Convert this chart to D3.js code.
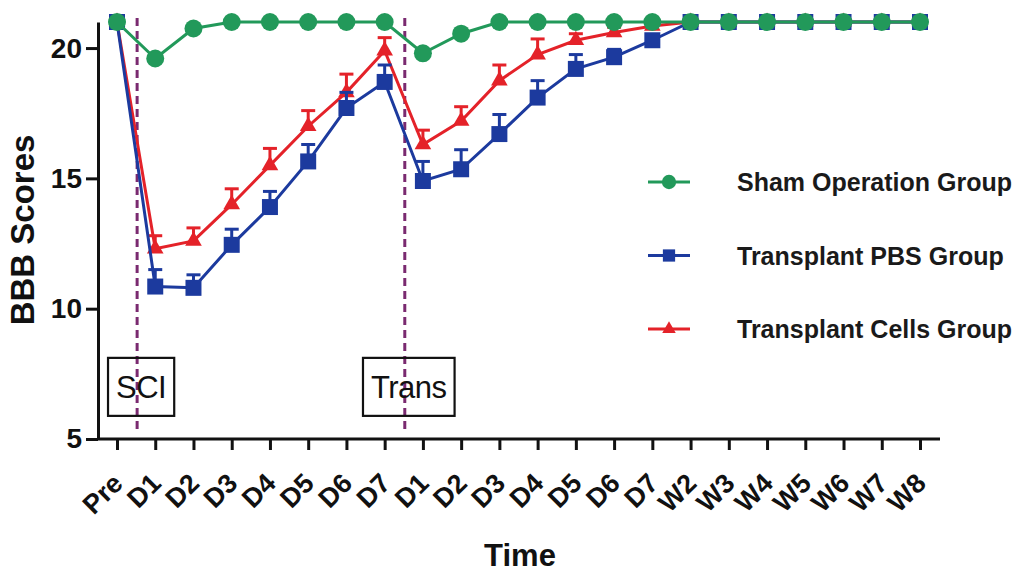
<!DOCTYPE html>
<html>
<head>
<meta charset="utf-8">
<script src="https://cdn.jsdelivr.net/npm/d3@7/dist/d3.min.js"></script>
<style>
  html, body { margin: 0; padding: 0; background: #ffffff; }
  svg { display: block; font-family: "Liberation Sans", Arial, sans-serif; }
</style>
</head>
<body>
<svg id="chart" width="1025" height="574"></svg>
<script>
// Time points: pre-injury, days after SCI, days after transplant, weeks
const timeLabels = ["Pre", "D1", "D2", "D3", "D4", "D5", "D6", "D7",
                    "D1", "D2", "D3", "D4", "D5", "D6", "D7",
                    "W2", "W3", "W4", "W5", "W6", "W7", "W8"];

// Mean BBB scores per group
const shamScores  = [21, 19.6, 20.75, 21, 21, 21, 21, 21, 19.8, 20.55, 21, 21, 21, 21, 21, 21, 21, 21, 21, 21, 21, 21];
const pbsScores   = [21, 10.85, 10.8, 12.45, 13.9, 15.65, 17.7, 18.7, 14.9, 15.35, 16.7, 18.1, 19.2, 19.65, 20.3, 21, 21, 21, 21, 21, 21, 21];
const cellsScores = [21, 12.3, 12.6, 14.0, 15.5, 17.0, 18.3, 19.9, 16.3, 17.2, 18.75, 19.75, 20.3, 20.6, 20.85, 21, 21, 21, 21, 21, 21, 21];

// Standard errors (upper bars only)
const shamErr  = [0, 0, 0, 0, 0, 0, 0, 0, 0, 0, 0, 0, 0, 0, 0, 0, 0, 0, 0, 0, 0, 0];
const pbsErr   = [0, 0.65, 0.5, 0.6, 0.6, 0.65, 0.6, 0.65, 0.75, 0.75, 0.75, 0.65, 0.55, 0.3, 0.2, 0, 0, 0, 0, 0, 0, 0];
const cellsErr = [0, 0.5, 0.5, 0.6, 0.65, 0.6, 0.7, 0.5, 0.55, 0.55, 0.6, 0.6, 0.25, 0.2, 0.1, 0, 0, 0, 0, 0, 0, 0];

const yTicks = [5, 10, 15, 20];

// Event markers placed between time points
const events = [
  { at: 0.5, label: "SCI" },
  { at: 7.5, label: "Trans" }
];

const groups = [
  { name: "Transplant Cells Group", values: cellsScores, err: cellsErr, color: "#e42229", symbol: d3.symbolTriangle, size: 120, legendSize: 80 },
  { name: "Transplant PBS Group",   values: pbsScores,   err: pbsErr,   color: "#1c3a9e", symbol: d3.symbolSquare,   size: 256, legendSize: 150 },
  { name: "Sham Operation Group",   values: shamScores,  err: shamErr,  color: "#22995a", symbol: d3.symbolCircle,   size: 254, legendSize: 160 }
];
// legend order (top to bottom)
const legendOrder = ["Sham Operation Group", "Transplant PBS Group", "Transplant Cells Group"];

const svg = d3.select("#chart");

const x = d3.scaleLinear().domain([0, timeLabels.length - 1]).range([117, 920]);
const y = d3.scaleLinear().domain([5, 21]).range([439, 22]);

// Event dashed lines
svg.append("g").selectAll("line").data(events).join("line")
  .attr("x1", d => x(d.at) + 1).attr("x2", d => x(d.at) + 1)
  .attr("y1", y(21.15)).attr("y2", y(5.35))
  .attr("stroke", "#7a2a70").attr("stroke-width", 3)
  .attr("stroke-dasharray", "8,5");

// Event boxes with labels
const evG = svg.append("g").selectAll("g").data(events).join("g")
  .attr("transform", d => `translate(${x(d.at) + 5},${y(7)})`);
evG.append("text")
  .attr("text-anchor", "middle")
  .attr("y", 11)
  .attr("font-size", 31)
  .attr("letter-spacing", -0.5)
  .attr("fill", "#111")
  .text(d => d.label);
evG.each(function() {
  const g = d3.select(this);
  const bb = g.select("text").node().getBBox();
  g.insert("rect", "text")
    .attr("x", bb.x - 8).attr("width", bb.width + 16)
    .attr("y", -29).attr("height", 58)
    .attr("fill", "none").attr("stroke", "#111").attr("stroke-width", 2.2);
});

// Y axis
const yAxis = svg.append("g")
  .attr("transform", "translate(98,0)")
  .call(d3.axisLeft(y).tickValues(yTicks).tickSize(12).tickSizeOuter(0).tickPadding(4));
yAxis.select(".domain").attr("stroke", "#111").attr("stroke-width", 3);
yAxis.selectAll(".tick line").attr("stroke", "#111").attr("stroke-width", 3);
yAxis.selectAll(".tick text")
  .attr("font-size", 28).attr("font-weight", "bold").attr("fill", "#111")
  .attr("font-family", "Liberation Sans, Arial, sans-serif");

// X axis
const xAxis = svg.append("g")
  .attr("transform", "translate(0,439)")
  .call(d3.axisBottom(x).tickValues(d3.range(timeLabels.length))
    .tickFormat(i => timeLabels[i]).tickSize(11).tickSizeOuter(0));
xAxis.select(".domain").remove();
xAxis.append("line")
  .attr("x1", 98).attr("x2", 940).attr("y1", 0).attr("y2", 0)
  .attr("stroke", "#111").attr("stroke-width", 3);
xAxis.selectAll(".tick line").attr("stroke", "#111").attr("stroke-width", 3);
xAxis.selectAll(".tick text")
  .attr("font-size", 27).attr("font-weight", "bold").attr("fill", "#111")
  .attr("font-family", "Liberation Sans, Arial, sans-serif")
  .attr("text-anchor", "end")
  .attr("dy", null)
  .attr("y", null)
  .attr("transform", "translate(7,46) rotate(-45)");

// Axis titles
svg.append("text")
  .attr("transform", "translate(34,230) rotate(-90)")
  .attr("text-anchor", "middle")
  .attr("font-size", 33).attr("font-weight", "bold").attr("fill", "#111")
  .text("BBB Scores");
svg.append("text")
  .attr("x", 520).attr("y", 566)
  .attr("text-anchor", "middle")
  .attr("font-size", 31).attr("font-weight", "bold").attr("fill", "#111")
  .text("Time");

// Series
const line = d3.line().x((d, i) => x(i)).y(d => y(d));
groups.forEach(g => {
  const sg = svg.append("g");
  sg.append("path")
    .datum(g.values)
    .attr("d", line)
    .attr("fill", "none").attr("stroke", g.color).attr("stroke-width", 3);
  const withErr = g.values.map((v, i) => ({ i, v, e: g.err[i] })).filter(d => d.e > 0);
  sg.selectAll(".eb").data(withErr).join("line")
    .attr("x1", d => x(d.i)).attr("x2", d => x(d.i))
    .attr("y1", d => y(d.v)).attr("y2", d => y(d.v + d.e))
    .attr("stroke", g.color).attr("stroke-width", 3);
  sg.selectAll(".cap").data(withErr).join("line")
    .attr("x1", d => x(d.i) - 7).attr("x2", d => x(d.i) + 7)
    .attr("y1", d => y(d.v + d.e)).attr("y2", d => y(d.v + d.e))
    .attr("stroke", g.color).attr("stroke-width", 3);
  sg.selectAll(".pt").data(g.values).join("path")
    .attr("transform", (d, i) => `translate(${x(i)},${y(d)})`)
    .attr("d", d3.symbol().type(g.symbol).size(g.size))
    .attr("fill", g.color);
});

// Legend
const legend = svg.append("g");
const legendRows = legendOrder.map(n => groups.find(g => g.name === n));
const rowY = d3.scalePoint().domain(legendOrder).range([182, 329]);
const lg = legend.selectAll("g").data(legendRows).join("g")
  .attr("transform", d => `translate(0,${rowY(d.name)})`);
lg.append("line")
  .attr("x1", 648).attr("x2", 690)
  .attr("stroke", d => d.color).attr("stroke-width", 3);
lg.append("path")
  .attr("transform", "translate(669,0)")
  .attr("d", d => d3.symbol().type(d.symbol).size(d.legendSize)())
  .attr("fill", d => d.color);
lg.append("text")
  .attr("x", 737).attr("y", 9)
  .attr("font-size", 25).attr("font-weight", "bold").attr("fill", "#1a1a1a")
  .text(d => d.name);
</script>
</body>
</html>
